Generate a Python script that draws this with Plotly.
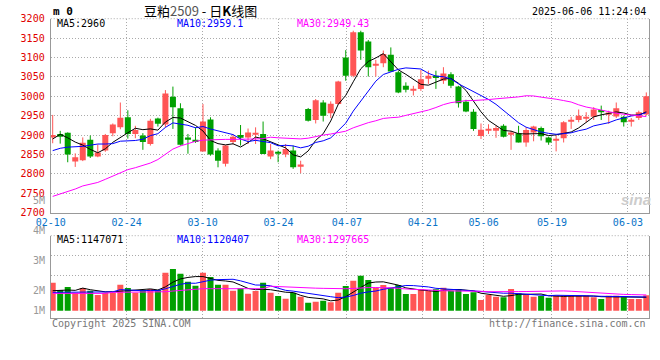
import plotly.graph_objects as go

# ---------------- data ----------------
dates = [
    "02-10", "02-11", "02-12", "02-13", "02-14", "02-17", "02-18", "02-19", "02-20", "02-21",
    "02-24", "02-25", "02-26", "02-27", "02-28",
    "03-03", "03-04", "03-05", "03-06", "03-07", "03-10", "03-11", "03-12", "03-13", "03-14",
    "03-17", "03-18", "03-19", "03-20", "03-21", "03-24", "03-25", "03-26", "03-27", "03-28", "03-31",
    "04-01", "04-02", "04-03", "04-07", "04-08", "04-09", "04-10", "04-11", "04-14", "04-15",
    "04-16", "04-17", "04-18", "04-21", "04-22", "04-23", "04-24", "04-25", "04-28", "04-29", "04-30",
    "05-06", "05-07", "05-08", "05-09", "05-12", "05-13", "05-14", "05-15", "05-16", "05-19",
    "05-20", "05-21", "05-22", "05-23", "05-26", "05-27", "05-28", "05-29", "05-30",
    "06-03", "06-04", "06-05", "06-06",
]
opens = [2894, 2903, 2906, 2832, 2835, 2888, 2845, 2860, 2905, 2920,
         2946, 2903, 2899, 2877, 2943, 2927, 2999, 2969, 2894, 2888,
         2858, 2940, 2860, 2826, 2882, 2900, 2894, 2903, 2903, 2845,
         2857, 2850, 2860, 2820, 2967, 2939, 2984, 2956, 2980, 3100,
         3053, 3165, 3141, 3080, 3085, 3107, 3062, 3027, 3016, 3019,
         3045, 3053, 3040, 3057, 3025, 2986, 2960, 2898, 2913, 2913,
         2924, 2901, 2905, 2881, 2907, 2918, 2894, 2886, 2892, 2936,
         2939, 2944, 2947, 2965, 2954, 2948, 2947, 2936, 2944, 2953]
highs = [2952, 2911, 2907, 2853, 2894, 2899, 2876, 2903, 2930, 2984,
         2964, 2924, 2905, 2942, 2945, 3016, 3025, 2982, 2903, 2920,
         2980, 2946, 2866, 2874, 2902, 2926, 2917, 2920, 2935, 2877,
         2860, 2877, 2873, 2834, 2970, 2993, 2990, 2987, 3040, 3119,
         3169, 3169, 3145, 3094, 3118, 3126, 3066, 3036, 3027, 3068,
         3066, 3066, 3075, 3062, 3027, 2991, 2967, 2930, 2928, 2924,
         2928, 2911, 2924, 2920, 2924, 2922, 2896, 2899, 2936, 2947,
         2966, 2959, 2972, 2976, 2963, 2984, 2950, 2944, 2963, 3010]
lows = [2879, 2878, 2830, 2818, 2833, 2841, 2843, 2857, 2897, 2915,
        2891, 2892, 2862, 2873, 2922, 2920, 2916, 2873, 2852, 2880,
        2858, 2847, 2817, 2819, 2876, 2873, 2877, 2877, 2851, 2838,
        2830, 2843, 2813, 2802, 2935, 2930, 2935, 2944, 2978, 3040,
        3049, 3094, 3051, 3051, 3075, 3064, 3008, 3010, 3002, 3014,
        3032, 3019, 3032, 3021, 2971, 2959, 2911, 2890, 2903, 2893,
        2894, 2862, 2881, 2870, 2884, 2886, 2875, 2858, 2881, 2916,
        2933, 2933, 2939, 2939, 2929, 2944, 2922, 2922, 2939, 2950]
closes = [2900, 2898, 2850, 2843, 2880, 2845, 2855, 2900, 2927, 2945,
          2903, 2913, 2882, 2937, 2929, 3007, 2972, 2875, 2889, 2882,
          2935, 2850, 2834, 2873, 2896, 2893, 2907, 2906, 2851, 2860,
          2854, 2864, 2817, 2824, 2937, 2990, 2950, 2981, 3038, 3053,
          3165, 3118, 3075, 3083, 3109, 3064, 3010, 3017, 3019, 3044,
          3053, 3047, 3059, 3027, 2982, 2961, 2916, 2914, 2916, 2918,
          2896, 2907, 2881, 2913, 2922, 2897, 2881, 2890, 2933, 2939,
          2950, 2947, 2966, 2959, 2958, 2969, 2933, 2939, 2959, 3000]
volumes = [2393000, 1766000, 2023000, 1538000, 1937000, 1709000, 1339000, 1538000, 1538000, 2222000,
           1937000, 1538000, 1766000, 1852000, 1766000, 3248000, 3561000, 3162000, 2479000, 2137000,
           3248000, 2877000, 2222000, 2222000, 1709000, 1909000, 1453000, 1681000, 2393000, 1538000,
           1254000, 1026000, 1538000, 1197000, 684000, 769000, 855000, 712000, 1538000, 2108000,
           2564000, 2991000, 2621000, 1966000, 2194000, 1966000, 2194000, 1425000, 1425000, 1823000,
           1709000, 1823000, 1966000, 1709000, 1852000, 1425000, 1567000, 912000, 1339000, 1197000,
           1140000, 1852000, 1481000, 1339000, 1197000, 1254000, 1111000, 1282000, 1282000, 1282000,
           1282000, 1282000, 1140000, 997000, 1282000, 1282000, 1140000, 997000, 997000, 1311000]

# moving-average values before a full window exists
ma5_early = [2890, 2902, 2893, 2882]
ma10_early = [2860, 2866, 2869, 2870, 2871, 2874, 2877, 2877, 2878]
ma30_early = [2742, 2748, 2754, 2761, 2769, 2774, 2778, 2786, 2795, 2802,
              2811, 2816, 2822, 2828, 2837, 2850, 2864, 2872, 2878, 2884,
              2887, 2888, 2888, 2889, 2889, 2889, 2890, 2890, 2891]
vma5_early = [1709000, 1766000, 1766000, 1738000]
vma10_early = [1567000, 1567000, 1567000, 1567000, 1580000, 1590000, 1600000, 1600000, 1610000]
vma30_early = [1480000] * 8 + [1570000] * 7 + [1620000, 1680000, 1740000, 1800000, 1850000] + [1880000] * 9

tick_dates = ["02-10", "02-24", "03-10", "03-24", "04-07", "04-21", "05-06", "05-19", "06-03"]
price_ticks = [2700, 2750, 2800, 2850, 2900, 2950, 3000, 3050, 3100, 3150, 3200]
vol_labels = ["5M", "4M", "3M", "2M", "1M"]
legend_price = ["MA5:2960", "MA10:2959.1", "MA30:2949.43"]
legend_vol = ["MA5:1147071", "MA10:1120407", "MA30:1297665"]

# ---------------- styling ----------------
W, H = 660, 360
RED, GREEN = "#ff5555", "#00a000"
MA_COLORS = ["#000000", "#0000ff", "#ff00ff"]
GRID = "#aaaaaa"
AXIS = "#999999"
MONO = "DejaVu Sans Mono"
L_PX, R_PX = 50.7, 649.3
MAIN_TOP, MAIN_BOT = 18.7, 212.7
VOL_TOP, VOL_BOT, VOL_BASE = 235.7, 318.3, 310.7
VOL_PX_PER_M = 11.7
CANDLE_STEP_PX = 7.514
GRID_STEP_PX = 7.595          # Sina spaces the date grid slightly wider than candles
FIRST_CANDLE_PX = 52.7


def px_x(p):
    return p / W


def px_y(p):
    return 1 - p / H


def moving(vals, n, early):
    out = []
    for i in range(len(vals)):
        if i >= n - 1:
            out.append(sum(vals[i - n + 1:i + 1]) / n)
        else:
            out.append(early[i])
    return out


n = len(dates)
xs = list(range(n))
colors = [RED if c >= o else GREEN for o, c in zip(opens, closes)]
body_base = [min(o, c) for o, c in zip(opens, closes)]
body_h = [max(abs(c - o), 3) for o, c in zip(opens, closes)]

fig = go.Figure()

# wicks
for col in (RED, GREEN):
    wx, wy = [], []
    for i in xs:
        if colors[i] == col:
            wx += [i, i, None]
            wy += [lows[i], highs[i], None]
    fig.add_trace(go.Scatter(x=wx, y=wy, mode="lines", line=dict(color=col, width=1),
                             xaxis="x", yaxis="y", hoverinfo="skip"))

# bodies
fig.add_trace(go.Bar(x=xs, y=body_h, base=body_base, width=0.8,
                     marker=dict(color=colors, line=dict(width=0)),
                     xaxis="x", yaxis="y", hoverinfo="skip"))

# price MAs
for vals, col in zip([moving(closes, 5, ma5_early), moving(closes, 10, ma10_early),
                      moving(closes, 30, ma30_early)], MA_COLORS):
    fig.add_trace(go.Scatter(x=xs, y=vals, mode="lines", line=dict(color=col, width=1),
                             xaxis="x", yaxis="y", hoverinfo="skip"))

# volume bars
fig.add_trace(go.Bar(x=xs, y=volumes, width=0.8,
                     marker=dict(color=colors, line=dict(width=0)),
                     xaxis="x2", yaxis="y2", hoverinfo="skip"))
for vals, col in zip([moving(volumes, 5, vma5_early), moving(volumes, 10, vma10_early),
                      moving(volumes, 30, vma30_early)], MA_COLORS):
    fig.add_trace(go.Scatter(x=xs, y=vals, mode="lines", line=dict(color=col, width=1),
                             xaxis="x2", yaxis="y2", hoverinfo="skip"))

# axis geometry
x_lo = (L_PX - FIRST_CANDLE_PX) / CANDLE_STEP_PX
x_hi = (R_PX - FIRST_CANDLE_PX) / CANDLE_STEP_PX
grid_pos = [(dates.index(d) * GRID_STEP_PX + L_PX - FIRST_CANDLE_PX) / CANDLE_STEP_PX
            for d in tick_dates]
vol_lo = -(VOL_BOT - VOL_BASE) / VOL_PX_PER_M * 1e6
vol_hi = (VOL_BASE - VOL_TOP) / VOL_PX_PER_M * 1e6
vol_grid = [(VOL_BASE - 275.3) / VOL_PX_PER_M * 1e6, (VOL_BASE - 255.7) / VOL_PX_PER_M * 1e6]

xdom = [px_x(L_PX), px_x(R_PX)]
common_x = dict(domain=xdom, range=[x_lo, x_hi], tickmode="array", tickvals=grid_pos,
                showgrid=True, gridcolor=GRID, griddash="1px,2px", gridwidth=1,
                showline=True, linecolor=AXIS, linewidth=1, zeroline=False, fixedrange=True,
                automargin=False)

fig.update_layout(
    width=W, height=H, margin=dict(l=0, r=0, t=0, b=0, autoexpand=False),
    paper_bgcolor="white", plot_bgcolor="white", showlegend=False,
    barmode="overlay", hovermode=False,
    xaxis=dict(**common_x, anchor="y", ticktext=tick_dates, ticks="",
               tickfont=dict(family=MONO, size=10, color="#0a74c8")),
    xaxis2=dict(**common_x, anchor="y2", matches="x", showticklabels=False, ticks=""),
    yaxis=dict(domain=[px_y(MAIN_BOT), px_y(MAIN_TOP)], range=[2700, 3200], anchor="x",
               tickmode="array", tickvals=price_ticks, ticktext=[str(v) for v in price_ticks],
               tickfont=dict(family=MONO, size=10, color="#e00000"),
               ticks="outside", ticklen=3, tickcolor="rgba(0,0,0,0)",
               showgrid=True, gridcolor=GRID, griddash="1px,2px", gridwidth=1,
               showline=True, linecolor=AXIS, linewidth=1, mirror=True, zeroline=False,
               fixedrange=True, automargin=False),
    yaxis2=dict(domain=[px_y(VOL_BOT), px_y(VOL_TOP)], range=[vol_lo, vol_hi], anchor="x2",
                tickmode="array", tickvals=vol_grid, showticklabels=False, ticks="",
                showgrid=True, gridcolor=GRID, griddash="1px,2px", gridwidth=1,
                showline=True, linecolor=AXIS, linewidth=1, mirror=True, zeroline=False,
                fixedrange=True, automargin=False),
)

# dotted top borders of both panels
for yref in ("y domain", "y2 domain"):
    fig.add_shape(type="line", xref="x domain", yref=yref, x0=0, x1=1, y0=1, y1=1,
                  line=dict(color=GRID, width=1, dash="1px,2px"))

ann = []


def text(x, y, s, color="#000", size=10, anchor="left", family=MONO):
    ann.append(dict(x=px_x(x), y=px_y(y), xref="paper", yref="paper", text=s,
                    showarrow=False, xanchor=anchor, yanchor="middle",
                    font=dict(family=family, size=size, color=color)))


text(51, 11.7, "<b>m 0</b>", size=11)
text(200, 10.5, "豆粕<span style='color:#555'>2509</span> - 日<b>K</b>线图", size=13,
     anchor="center", family="Noto Sans CJK SC")
text(648, 11.7, "2025-06-06 11:24:04", anchor="right")
for s, x, col in zip(legend_price, [55, 175, 295], MA_COLORS):
    text(x, 24, s, color=col)
for s, x, col in zip(legend_vol, [55, 175, 295], MA_COLORS):
    text(x, 239, s, color=col)
for s, y in zip(vol_labels, [200.5, 230.7, 260.7, 290.7, 310.7]):
    text(47, y, s, color="#999999", anchor="right")
text(50, 323.5, "Copyright 2025 SINA.COM", color="#777777")
text(648, 323.5, "http://finance.sina.com.cn", color="#777777", anchor="right")
text(636, 199, "<b><i>sina</i></b>", color="#cccccc", size=15, anchor="center",
     family="Liberation Sans")
fig.update_layout(annotations=ann)

fig.write_html("out.html", config={"displayModeBar": False},
               post_script="document.body.style.margin='0';document.body.style.overflow='hidden';")
